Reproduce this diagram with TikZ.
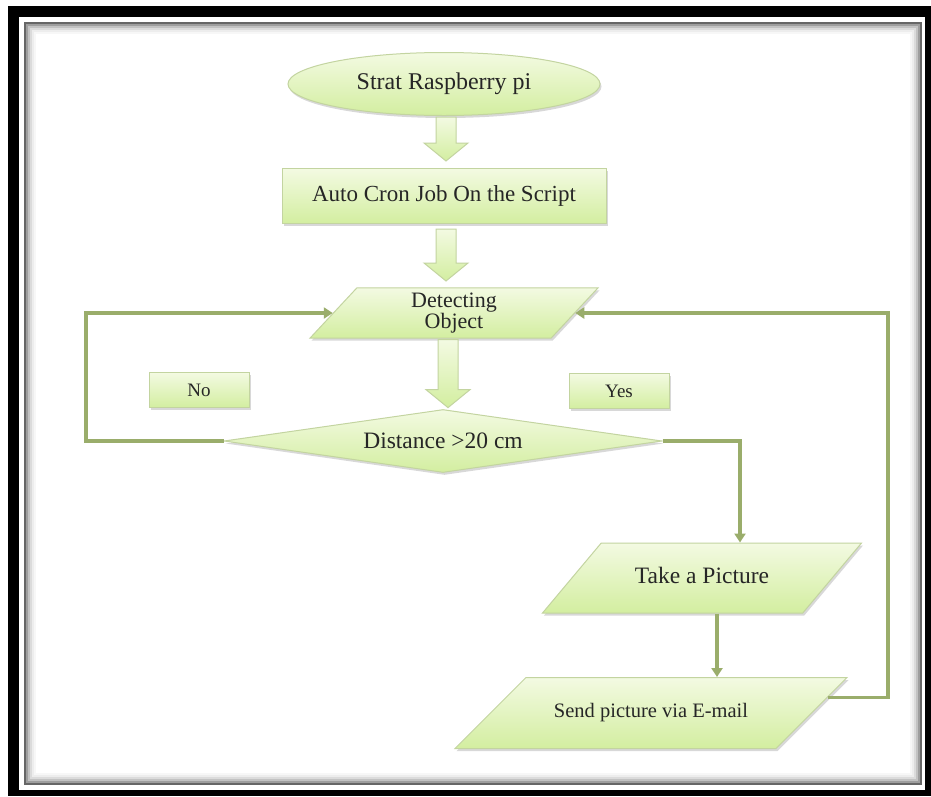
\documentclass[tikz,border=0pt]{standalone}
\usepackage{fontspec}
\setmainfont{Liberation Serif}
\usetikzlibrary{shapes.geometric,shadows,arrows.meta}
\definecolor{fltop}{HTML}{F3FAE2}
\definecolor{flbot}{HTML}{D3EEA0}
\definecolor{fledge}{HTML}{C3D4A0}
\definecolor{flline}{HTML}{9AAD6B}
\definecolor{fltext}{HTML}{262626}

\begin{document}
\begin{tikzpicture}[x=1pt, y=-1pt,
    box/.style={draw=fledge, line width=1pt, top color=fltop, bottom color=flbot,
      drop shadow={opacity=0.3, shadow xshift=1.5pt, shadow yshift=-2.5pt},
      text=fltext, inner sep=0pt, font=\fontsize{23}{26}\selectfont},
    startbox/.style={box, ellipse, minimum width=312pt, minimum height=63pt},
    procbox/.style={box, rectangle, minimum width=324pt, minimum height=55pt},
    iobox/.style={box, trapezium, trapezium left angle=#1, trapezium right angle=180-#1,
      trapezium stretches body},
    decbox/.style={box, diamond, aspect=7, minimum width=438pt, minimum height=63pt},
    tagbox/.style={box, rectangle, minimum width=100pt, minimum height=35pt,
      font=\fontsize{19}{21}\selectfont},
    flow/.style={draw=flline, line width=3.5pt, -{Triangle[length=9pt,width=11pt]}},
    bigdown/.pic={\draw[draw=fledge, line width=1pt, top color=fltop, bottom color=flbot]
      (-10,0) -- (-10,#1-18) -- (-22,#1-18) -- (0,#1) -- (22,#1-18) -- (10,#1-18) -- (10,0) -- cycle;}
  ]
  \useasboundingbox (0,0) rectangle (931,796);

  % Frame
  \fill[black] (8,6) rectangle (931,796);
  \fill[white] (19,17) rectangle (925,790);
  \foreach \d/\c in {0/60,2/38,4/24,6/14,8/7,10/3}
    \draw[black!\c, line width=2pt] (25+\d,23+\d) rectangle (921-\d,784-\d);

  % Turning points of the loops
  \coordinate (loopL) at (86,0);
  \coordinate (loopR) at (888,0);
  \coordinate (brX) at (740,0);
  \coordinate (tsX) at (717,0);

  % Steps
  \node[startbox, font=\fontsize{24}{26}\selectfont] (start) at (444,84) {Strat Raspberry pi};
  \node[procbox] (cron) at (444,196) {Auto Cron Job On the Script};
  \node[iobox=47, minimum width=288pt, minimum height=50pt, inner ysep=5pt, align=center,
    font=\fontsize{22}{20}\selectfont] (detect) at (454,313) {Detecting\\Object};
  \node[decbox, font=\fontsize{23.5}{26}\selectfont] (dist) at (443,441) {Distance >20 cm};
  \node[iobox=50, minimum width=319pt, minimum height=70pt, text height=16pt, text depth=5pt,
    inner ysep=24.5pt, font=\fontsize{23.5}{26}\selectfont] (take) at (702,578) {Take a Picture};
  \node[iobox=45, minimum width=392pt, minimum height=71pt, text height=14pt, text depth=4.5pt,
    inner ysep=26.25pt, font=\fontsize{20.5}{23}\selectfont] (send) at (651,713) {Send picture via E-mail};

  % Answers
  \node[tagbox] (no) at (199,390) {No};
  \node[tagbox] (yes) at (619,391) {Yes};

  % Block arrows
  \path (start.south) ++(2,1) pic {bigdown=44};
  \path (cron.south) ++(2,5) pic {bigdown=52};
  \path (detect.south) ++(-6,1) pic {bigdown=68};

  % Connectors
  \draw[flow] (dist.west) -- (dist.west -| loopL) |- (detect);
  \draw[flow] (dist.east) -- (dist.east -| brX) -- (brX |- take.north);
  \draw[flow] (take.south -| tsX) -- (tsX |- send.north);
  \draw[flow] (send.5) -- (send.5 -| loopR) |- (detect);
\end{tikzpicture}
\end{document}
